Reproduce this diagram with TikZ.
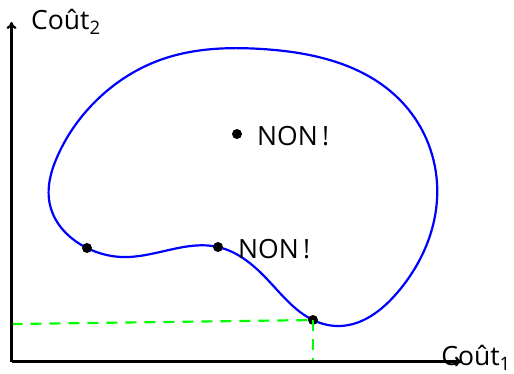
\documentclass[tikz,border=0pt]{standalone}
\usepackage{fontspec}
\newfontfamily\lblfont{Open Sans}
\usetikzlibrary{arrows.meta,hobby}
\begin{document}
\begin{tikzpicture}[x=1pt,y=-1pt,
  axis/.style={line width=2.2pt,-{To[length=7pt,width=10pt]}},
  front/.style={blue,line width=2.2pt},
  dotn/.style={circle,fill=black,inner sep=0pt,minimum size=10pt},
  lbl/.style={font=\lblfont\fontsize{26.5}{30}\selectfont,inner sep=0pt},
  guide/.style={green,line width=2.2pt,dash pattern=on 11pt off 8pt}]
\useasboundingbox (0,0) rectangle (514,373);
\coordinate (O) at (11.5,361.5);
\coordinate (X) at (462,361.5);
\coordinate (Y) at (11.5,22);
\coordinate (G) at (11.5,324);
\coordinate (H) at (313,361.5);
\draw[front,use Hobby shortcut,closed=true]
 (87,248) .. (122,257) .. (218,247) .. (266,278) .. (313,320) .. (340,326)
 .. (397,293) .. (437,183) .. (400,100) .. (262,49) .. (160,60) .. (100,97)
 .. (58,155) .. (50,205);
\node[dotn] (p1) at (87,248) {};
\node[dotn] (p2) at (218,247) {};
\node[dotn] (p3) at (313,320) {};
\node[dotn] (p4) at (237,134) {};
\draw[guide] (G) -- (p3.center);
\draw[guide] (p3.center) -- (H);
\draw[axis] (O) -- (X);
\draw[axis] (O) -- (Y);
\node[lbl,anchor=west] (n1) at (257,136) {NON\,!};
\node[lbl,anchor=west] (n2) at (238,249) {NON\,!};
\node[lbl,anchor=east] (cx) at (511,358) {Coût\textsubscript{1}};
\node[lbl,anchor=west] (cy) at (31,22) {Coût\textsubscript{2}};
\end{tikzpicture}
\end{document}
